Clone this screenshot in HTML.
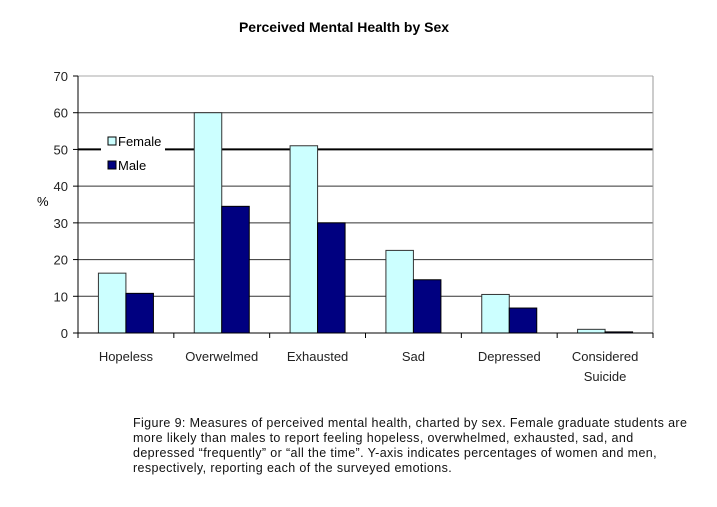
<!DOCTYPE html>
<html><head><meta charset="utf-8"><style>
body{margin:0;background:#fff;width:717px;height:507px;overflow:hidden;font-family:"Liberation Sans",sans-serif}
#cap{position:absolute;left:133px;top:416px;white-space:nowrap;font-size:12.5px;line-height:15px;color:#111;letter-spacing:0.38px}
</style></head><body>
<svg id="chart" width="717" height="400" style="position:absolute;left:0;top:0" font-family="Liberation Sans, sans-serif"></svg>
<div id="cap">Figure 9: Measures of perceived mental health, charted by sex. Female graduate students are<br>more likely than males to report feeling hopeless, overwhelmed, exhausted, sad, and<br>depressed “frequently” or “all the time”. Y-axis indicates percentages of women and men,<br>respectively, reporting each of the surveyed emotions.</div>
<script>
const categories=[["Hopeless"],["Overwelmed"],["Exhausted"],["Sad"],["Depressed"],["Considered","Suicide"]];
const female=[16.3,60,51,22.5,10.5,1];
const male=[10.8,34.5,30,14.5,6.8,0.3];
const ticks=[0,10,20,30,40,50,60,70];
const svg=document.getElementById('chart');const NS='http://www.w3.org/2000/svg';
const X0=78,X1=653,Y0=333,Y1=76,MAX=70;
const y=v=>Y0-(v/MAX)*(Y0-Y1);
const bw=(X1-X0)/categories.length;
function mk(t,a,p){const e=document.createElementNS(NS,t);for(const k in a)e.setAttribute(k,a[k]);(p||svg).appendChild(e);return e;}
let t=mk('text',{x:344,y:32,'text-anchor':'middle','font-size':14,'font-weight':'bold'});t.textContent='Perceived Mental Health by Sex';


ticks.forEach(v=>{
 const l=mk('line',{x1:X0,x2:X1,y1:y(v),y2:y(v),stroke:v==50?'#000':(v==70?'#aaa':'#333'),'stroke-width':v==50?2:1});
 
 
 const tx=mk('text',{x:X0-10,y:y(v)+5,'text-anchor':'end','font-size':13,fill:'#222'});tx.textContent=v;
 
 
 mk('line',{x1:X0-5,x2:X0,y1:y(v),y2:y(v),stroke:'#000'});
});
mk('line',{x1:X1,x2:X1,y1:Y1,y2:Y0,stroke:'#999'});
const yt=mk('text',{x:37,y:206,'font-size':13});yt.textContent='%';


categories.forEach((c,i)=>{
 const cx=X0+bw*(i+0.5),w=27.5;
 const f=mk('rect',{x:cx-w,y:y(female[i]),width:w,height:Y0-y(female[i]),fill:'#ccffff',stroke:'#333','stroke-width':1});
 
 
 const m=mk('rect',{x:cx,y:y(male[i]),width:w,height:Y0-y(male[i]),fill:'#000080',stroke:'#000','stroke-width':1});
 
 
 mk('line',{x1:X0+bw*(i+1),x2:X0+bw*(i+1),y1:Y0,y2:Y0+5,stroke:'#000'});
 c.forEach((s,j)=>{const tx=mk('text',{x:cx,y:361+j*20,'text-anchor':'middle','font-size':13,fill:'#222'});tx.textContent=s;
 
 });
});
mk('line',{x1:X0,x2:X0,y1:Y1,y2:Y0+5,stroke:'#000'});
mk('line',{x1:X0,x2:X1,y1:Y0,y2:Y0,stroke:'#000'});
const lg=mk('g',{});
mk('rect',{x:101,y:128,width:64,height:50,fill:'#fff'},lg);
mk('rect',{x:108,y:137,width:8,height:8,fill:'#ccffff',stroke:'#000'},lg);
let a=mk('text',{x:118,y:146,'font-size':13},lg);a.textContent='Female';
mk('rect',{x:108,y:161,width:8,height:8,fill:'#000080',stroke:'#000'},lg);
a=mk('text',{x:118,y:170,'font-size':13},lg);a.textContent='Male';
</script>
</body></html>
